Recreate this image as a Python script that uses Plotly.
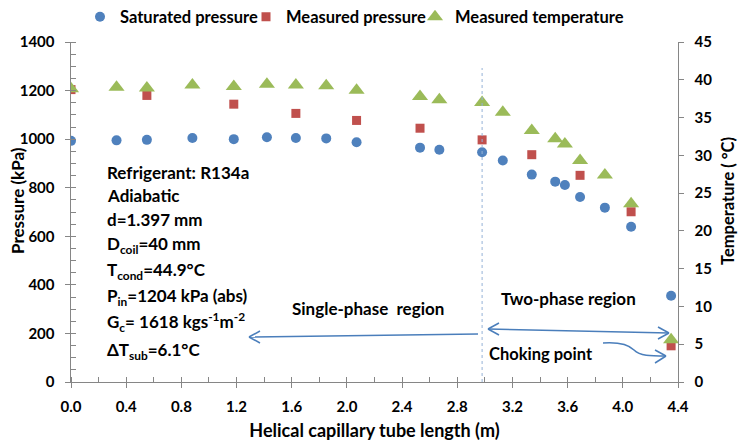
import plotly.graph_objects as go

# ---- data ----
x_sat = [0.0, 0.33, 0.55, 0.88, 1.18, 1.42, 1.63, 1.85, 2.07, 2.53, 2.67, 2.98,
         3.13, 3.34, 3.51, 3.58, 3.69, 3.87, 4.06, 4.35]
p_sat = [993, 995, 997, 1005, 1000, 1008, 1005, 1003, 987, 965, 956, 946,
         912, 854, 825, 811, 762, 718, 639, 355]
x_meas_p = [0.0, 0.55, 1.18, 1.63, 2.07, 2.53, 2.98, 3.34, 3.69, 4.06, 4.35]
p_meas = [1204, 1180, 1144, 1106, 1077, 1045, 997, 936, 851, 701, 149]
x_temp = [0.0, 0.33, 0.55, 0.88, 1.18, 1.42, 1.63, 1.85, 2.07, 2.53, 2.67, 2.98,
          3.13, 3.34, 3.51, 3.58, 3.69, 3.87, 4.06, 4.35]
t_meas = [38.8, 39.0, 38.9, 39.3, 39.1, 39.4, 39.3, 39.2, 38.6, 37.8, 37.35, 37.0,
          35.7, 33.3, 32.2, 31.5, 29.3, 27.4, 23.6, 5.6]

x_boundary = 2.98

info_lines = [
    "Refrigerant: R134a",
    "Adiabatic",
    "d=1.397 mm",
    "D<sub>coil</sub>=40 mm",
    "T<sub>cond</sub>=44.9°C",
    "P<sub>in</sub>=1204 kPa (abs)",
    "G<sub>c</sub>= 1618 kgs<sup>-1</sup>m<sup>-2</sup>",
    "ΔT<sub>sub</sub>=6.1°C",
]

# ---- layout geometry ----
W, H = 741, 444
L, R, T, B = 71, 63, 42, 62
XMAX, YMAX, Y2MAX = 4.4, 1400, 45
PW, PH = W - L - R, H - T - B

def px2x(px):
    return (px - L) / PW * XMAX

def py2y(py):
    return (H - B - py) / PH * YMAX

def px2paper(px):
    return (px - L) / PW

def py2paper(py):
    return (H - B - py) / PH

FONT = "Lato"
BLUE, RED, GREEN = "#4F81BD", "#C0504D", "#9BBB59"
ARROW = "#4A7EBB"
AX = "#868686"
EN = "\u2002"

def bfont(size):
    return dict(family=FONT, size=size, color="black", weight="bold")

fig = go.Figure()
fig.add_trace(go.Scatter(x=x_sat, y=p_sat, mode="markers", name="Saturated pressure",
                         legend="legend",
                         marker=dict(symbol="circle", size=10, color=BLUE)))
fig.add_trace(go.Scatter(x=x_meas_p, y=p_meas, mode="markers", name="Measured pressure",
                         legend="legend2",
                         marker=dict(symbol="square", size=9, color=RED)))
fig.add_trace(go.Scatter(x=x_temp, y=t_meas, mode="markers", name="Measured temperature",
                         yaxis="y2", legend="legend3",
                         marker=dict(symbol="triangle-up", size=14, color=GREEN)))

ann = []
line_py = [172, 195, 219, 245, 271, 297, 322, 351]
for txt, py in zip(info_lines, line_py):
    ann.append(dict(x=px2x(105), y=py2y(py), xref="x", yref="y", text=txt,
                    showarrow=False, xanchor="left", yanchor="middle", font=bfont(17)))
ann.append(dict(x=px2x(368), y=py2y(308), xref="x", yref="y", text="Single-phase&nbsp;&nbsp;region",
                showarrow=False, xanchor="center", yanchor="middle", font=bfont(17)))
ann.append(dict(x=px2x(568), y=py2y(298), xref="x", yref="y", text="Two-phase region",
                showarrow=False, xanchor="center", yanchor="middle", font=bfont(17)))
ann.append(dict(x=px2x(541), y=py2y(354), xref="x", yref="y", text="Choking point",
                showarrow=False, xanchor="center", yanchor="middle", font=bfont(16.5)))
# axis titles (vertical)
ann.append(dict(x=px2paper(17), y=py2paper(201), xref="paper", yref="paper",
                xanchor="center", yanchor="middle",
                text="Pressure (kPa)", textangle=-90, showarrow=False, font=bfont(17)))
ann.append(dict(x=px2paper(728), y=py2paper(201), xref="paper", yref="paper",
                xanchor="center", yanchor="middle",
                text="Temperature ( °C)", textangle=-90, showarrow=False, font=bfont(16.5)))

shapes = []
def seg(p1, p2, color=ARROW, width=1.5, dash="solid"):
    shapes.append(dict(type="line", xref="x", yref="y",
                       x0=px2x(p1[0]), y0=py2y(p1[1]), x1=px2x(p2[0]), y1=py2y(p2[1]),
                       line=dict(color=color, width=width, dash=dash)))

def chevron(tip, a1, a2):
    seg(a1, tip)
    seg(a2, tip)

# vertical boundary line
shapes.append(dict(type="line", xref="x", yref="y", x0=x_boundary, x1=x_boundary,
                   y0=0, y1=py2y(68), line=dict(color="#95B3D7", width=1, dash="dot")))
# single-phase arrow
seg((478, 334), (249, 337))
chevron((249, 337), (260, 331), (260, 343))
# two-phase double arrow
seg((488, 329), (669, 333))
chevron((488, 329), (499, 323), (499, 335))
chevron((669, 333), (658, 327), (658, 339))
# choking point curved arrow
path = "M {} {} C {} {}, {} {}, {} {} S {} {}, {} {}".format(
    px2x(603), py2y(343), px2x(618), py2y(342), px2x(628), py2y(344),
    px2x(634), py2y(350), px2x(650), py2y(356), px2x(666), py2y(356))
shapes.append(dict(type="path", xref="x", yref="y", path=path,
                   line=dict(color=ARROW, width=1.5)))
chevron((666, 356), (655, 350), (655, 363))

axis_common = dict(showgrid=False, zeroline=False, showline=True, linecolor=AX,
                   linewidth=1, ticks="outside", tickcolor=AX, ticklen=5,
                   tickfont=bfont(15), automargin=False)

def legend_at(text_left_px):
    return dict(orientation="h", x=(text_left_px - 40) / W, xanchor="left",
                y=1 - 17 / H, yanchor="middle", yref="container", xref="container",
                font=bfont(16.5), bgcolor="rgba(0,0,0,0)", itemwidth=30)

fig.update_layout(
    width=W, height=H,
    margin=dict(l=L, r=R, t=T, b=B, autoexpand=False),
    plot_bgcolor="white", paper_bgcolor="white",
    font=dict(family=FONT, color="black"),
    showlegend=True,
    legend=legend_at(120),
    legend2=legend_at(286),
    legend3=legend_at(455),
    xaxis=dict(range=[0, XMAX], dtick=0.4, tick0=0, tickformat=".1f",
               minor=dict(dtick=0.2, ticks="inside", ticklen=5, tickcolor=AX),
               ticklabelstandoff=6,
               title=dict(text="Helical capillary tube length (m)", standoff=10,
                          font=bfont(18)),
               **axis_common),
    yaxis=dict(range=[0, YMAX], dtick=200, tick0=0, ticksuffix=EN,
               minor=dict(dtick=50, ticks="inside", ticklen=5, tickcolor=AX),
               **axis_common),
    yaxis2=dict(range=[0, Y2MAX], dtick=5, tick0=0, overlaying="y", side="right",
                tickprefix=EN,
                **axis_common),
    annotations=ann,
    shapes=shapes,
)

fig.write_html("out.html")
